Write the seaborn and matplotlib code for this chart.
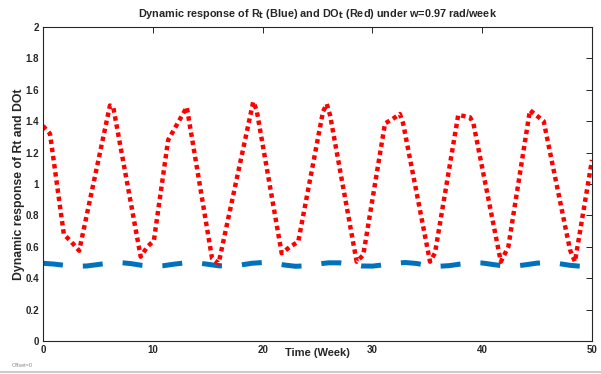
import matplotlib
matplotlib.use("Agg")
import matplotlib.pyplot as plt
import seaborn as sns
import pandas as pd

# DO_t (red): week, value
do_weeks = [0, 0.64, 1.9, 2.6, 3.3, 6.1, 6.4, 8.9, 9.5, 10.1, 11.4, 13.1,
            15.4, 16.0, 19.15, 19.46, 21.74, 22.5, 23.25, 25.5, 25.84, 26.14,
            28.57, 29.17, 31.15, 31.76, 32.5, 32.8, 35.25, 35.7, 37.82, 38.89,
            39.2, 41.7, 42.38, 44.35, 45.6, 48.0, 48.45, 50.0]
do_values = [1.37, 1.32, 0.68, 0.63, 0.575, 1.50, 1.49, 0.537, 0.60, 0.64,
             1.28, 1.49, 0.526, 0.495, 1.524, 1.47, 0.559, 0.60, 0.633, 1.46,
             1.51, 1.44, 0.505, 0.548, 1.386, 1.41, 1.446, 1.386, 0.505, 0.56,
             1.44, 1.425, 1.386, 0.505, 0.60, 1.47, 1.40, 0.58, 0.505, 1.153]

# R_t (blue), weekly
r_weeks = list(range(51))
r_values = [0.495, 0.49, 0.482, 0.476, 0.478, 0.487, 0.497, 0.5, 0.493, 0.482,
            0.476, 0.48, 0.49, 0.498, 0.498, 0.489, 0.479, 0.477, 0.484, 0.495,
            0.5, 0.495, 0.484, 0.476, 0.479, 0.49, 0.498, 0.498, 0.488, 0.478,
            0.477, 0.485, 0.495, 0.5, 0.494, 0.482, 0.476, 0.48, 0.49, 0.499,
            0.497, 0.487, 0.478, 0.477, 0.486, 0.496, 0.5, 0.493, 0.482, 0.476,
            0.481]

x_ticks = [0, 10, 20, 30, 40, 50]
y_ticks = [0, 0.2, 0.4, 0.6, 0.8, 1, 1.2, 1.4, 1.6, 1.8, 2]
y_ticklabels = ["0", "0.2", "0.4", "0.6", "0.8", "1", "1.2", "1.4", "1.6", "1.8", "2"]

sns.set_style("white")
plt.rcParams["font.family"] = ["Liberation Sans", "DejaVu Sans"]

df_r = pd.DataFrame({"week": r_weeks, "value": r_values})
df_do = pd.DataFrame({"week": do_weeks, "value": do_values})

fig = plt.figure(figsize=(6.01, 3.74), dpi=100)
ax = fig.add_axes([0.0715, 0.0882, 0.9135, 0.8396])

sns.lineplot(data=df_r, x="week", y="value", ax=ax, color="#0072BD",
             linewidth=3.6, linestyle=(0, (4, 4)), sort=False)
sns.lineplot(data=df_do, x="week", y="value", ax=ax, color="#ff0000",
             linewidth=3.2, linestyle=(0, (1, 0.85)), sort=False)

ax.set_xlim(0, 50)
ax.set_ylim(0, 2)
ax.set_xticks(x_ticks)
ax.set_xticklabels([str(t) for t in x_ticks], fontweight="bold", fontsize=7)
ax.set_yticks(y_ticks)
ax.set_yticklabels(y_ticklabels, fontweight="bold", fontsize=7)
ax.tick_params(direction="in", length=4, width=0.7, top=True, right=True,
               colors="#262626", pad=3)
for side in ["left", "right", "top", "bottom"]:
    ax.spines[side].set_visible(True)
    ax.spines[side].set_color("#262626")
    ax.spines[side].set_linewidth(0.8)

ax.set_xlabel("Time (Week)", fontweight="bold", fontsize=8, labelpad=-5)
ax.set_ylabel("Dynamic response of Rt and DOt", fontweight="bold", fontsize=8.8,
              labelpad=0)
ax.set_title("Dynamic response of R$_\\mathbf{t}$ (Blue) and DO$_\\mathbf{t}$ (Red) under w=0.97 rad/week",
             fontweight="bold", fontsize=7.8, pad=7)

fig.text(0.02, 0.018, "Offset=0", fontsize=4, color="#888888")
fig.add_artist(plt.Line2D([0.0, 1.0], [0.006, 0.006], color="#cccccc", lw=1.5))

fig.savefig("out.png", dpi=100)
